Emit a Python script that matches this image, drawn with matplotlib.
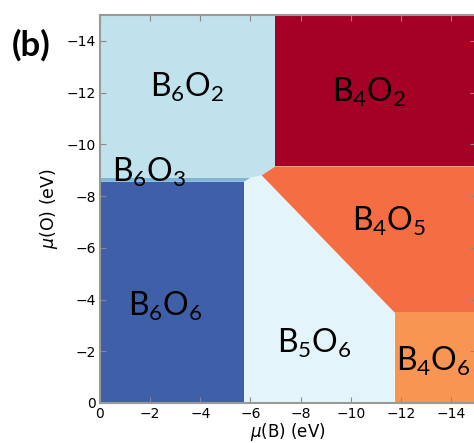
import matplotlib
matplotlib.use("Agg")
import matplotlib.pyplot as plt

# phase regions in (mu_B, mu_O), eV
phases = ["B6O6", "B6O3", "B6O2", "B5O6", "B4O5", "B4O2", "B4O6"]
labels = [r"$\mathregular{B_6O_6}$", r"$\mathregular{B_6O_3}$", r"$\mathregular{B_6O_2}$",
          r"$\mathregular{B_5O_6}$", r"$\mathregular{B_4O_5}$", r"$\mathregular{B_4O_2}$",
          r"$\mathregular{B_4O_6}$"]
colors = ["#3f5fa9", "#7fb5da", "#c0e2ec", "#e3f5fa", "#f46d43", "#a50026", "#f99552"]

mu_B = {
    "B6O6": [0, -5.75, -5.75, 0],
    "B6O3": [0, -5.75, -6.0, 0],
    "B6O2": [0, -6.0, -6.45, -7.0, -7.0, 0],
    "B5O6": [-5.75, -11.75, -11.75, -6.45, -6.0, -5.75],
    "B4O5": [-11.75, -15, -15, -7.0, -6.45],
    "B4O2": [-7.0, -15, -15, -7.0],
    "B4O6": [-11.75, -15, -15, -11.75],
}
mu_O = {
    "B6O6": [0, 0, -8.55, -8.55],
    "B6O3": [-8.55, -8.55, -8.7, -8.7],
    "B6O2": [-8.7, -8.7, -8.8, -9.15, -15, -15],
    "B5O6": [0, 0, -3.5, -8.8, -8.7, -8.55],
    "B4O5": [-3.5, -3.5, -9.15, -9.15, -8.8],
    "B4O2": [-9.15, -9.15, -15, -15],
    "B4O6": [0, 0, -3.5, -3.5],
}

# label anchor points
label_x = [-2.6, -1.95, -3.5, -8.55, -11.55, -10.75, -11.8]
label_y = [-3.75, -8.9, -12.2, -2.3, -7.0, -12.0, -1.6]
label_ha = ["center", "center", "center", "center", "center", "center", "left"]

fig = plt.figure(figsize=(4.74, 4.43), dpi=100)
ax = fig.add_axes([100 / 474, 40 / 443, 376 / 474, 388 / 443])

for name, c in zip(phases, colors):
    ax.fill(mu_B[name], mu_O[name], color=c, lw=0)

for lab, x, y, ha in zip(labels, label_x, label_y, label_ha):
    ax.text(x, y, lab, fontsize=23, family="Lato", ha=ha, va="center", color="black")

ax.set_xlim(0, -15)
ax.set_ylim(0, -15)
ax.set_xticks([0, -2, -4, -6, -8, -10, -12, -14])
ax.set_yticks([0, -2, -4, -6, -8, -10, -12, -14])
ax.tick_params(direction="in", top=True, right=True, labelsize=10,
               color="#888888", length=4, pad=3)
for s in ax.spines.values():
    s.set_color("#999999")
    s.set_linewidth(1.5)

ax.set_xlabel(r"$\mu$(B) (eV)", fontsize=12, math_fontfamily="dejavusans", labelpad=0)
ax.set_ylabel(r"$\mu$(O) (eV)", fontsize=12.5, math_fontfamily="dejavusans", labelpad=5)

fig.text(31 / 474, 1 - 45 / 443, "(b)", fontsize=25, fontweight="bold",
         family="Lato", ha="center", va="center")

fig.savefig("out.png", dpi=100)
